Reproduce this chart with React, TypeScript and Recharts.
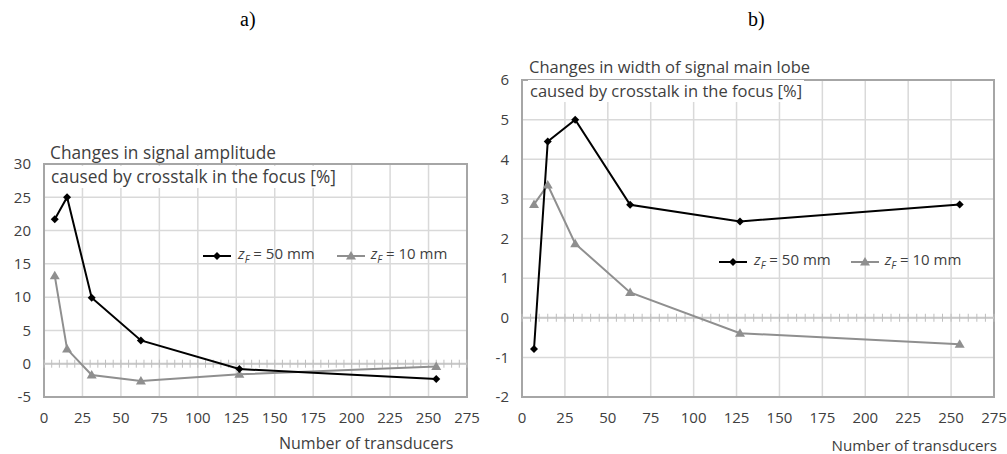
import React from 'react';
import { LineChart, Line, XAxis, YAxis, CartesianGrid, ReferenceLine, ReferenceArea } from 'recharts';

const transducers = [7, 15, 31, 63, 127, 255];
const amplitude50 = [21.7, 25.0, 9.9, 3.5, -0.8, -2.3];
const amplitude10 = [13.2, 2.2, -1.7, -2.6, -1.6, -0.4];
const width50 = [-0.79, 4.45, 5.0, 2.85, 2.43, 2.86];
const width10 = [2.86, 3.35, 1.87, 0.64, -0.39, -0.67];

const xTicks = [0, 25, 50, 75, 100, 125, 150, 175, 200, 225, 250, 275];
const amplitudeTicks = [-5, 0, 5, 10, 15, 20, 25, 30];
const widthTicks = [-2, -1, 0, 1, 2, 3, 4, 5, 6];

const FONT = '"Open Sans", sans-serif';
const TEXT = '#404040';
const GRID = '#d9d9d9';
const GRAY = '#8f8f8f';

const Diamond = (props: any) => {
  const { cx, cy, index } = props;
  return <path key={index} d={`M${cx},${cy - 4}L${cx + 4},${cy}L${cx},${cy + 4}L${cx - 4},${cy}Z`} fill="#000" />;
};

const Triangle = (props: any) => {
  const { cx, cy, index } = props;
  return <path key={index} d={`M${cx},${cy - 5}L${cx + 5},${cy + 3.5}L${cx - 5},${cy + 3.5}Z`} fill={GRAY} />;
};

// zero axis with small crossing ticks every 5 units
const ZeroAxis = (props: any) => {
  const { x1, x2, y1 } = props;
  const steps = 275 / 5;
  const dx = (x2 - x1) / steps;
  const ticks = [];
  for (let i = 0; i <= steps; i++) {
    const x = x1 + i * dx;
    ticks.push(<line key={i} x1={x} x2={x} y1={y1 - 4} y2={y1 + 4} stroke="#bfbfbf" strokeWidth={1} />);
  }
  return (
    <g>
      <line x1={x1} x2={x2} y1={y1} y2={y1} stroke="#c8c8c8" strokeWidth={2} />
      {ticks}
    </g>
  );
};

const ZLabel = ({ v }: { v: string }) => (
  <span>
    <i>z</i>
    <sub style={{ fontSize: 10, fontStyle: 'italic' }}>F</sub> = {v} mm
  </span>
);

const LegendBox = ({ left, top, gap }: { left: number; top: number; gap: number }) => (
  <div
    style={{
      position: 'absolute',
      left,
      top,
      display: 'flex',
      alignItems: 'center',
      fontFamily: FONT,
      fontSize: 15,
      color: TEXT,
      whiteSpace: 'nowrap',
      lineHeight: '20px',
    }}
  >
    <svg width={30} height={10} style={{ marginRight: 5 }}>
      <line x1={0} x2={28} y1={5} y2={5} stroke="#000" strokeWidth={2} />
      <path d="M14,1L18,5L14,9L10,5Z" fill="#000" />
    </svg>
    <ZLabel v="50" />
    <svg width={30} height={10} style={{ marginLeft: gap, marginRight: 4 }}>
      <line x1={0} x2={28} y1={5} y2={5} stroke={GRAY} strokeWidth={2} />
      <path d="M14,0L19,8.5L9,8.5Z" fill={GRAY} />
    </svg>
    <ZLabel v="10" />
  </div>
);

interface PanelProps {
  left: number;
  width: number;
  top: number;
  marginLeft: number;
  s50: number[];
  s10: number[];
  yTicks: number[];
}

function Panel({ left, width, top, marginLeft, s50, s10, yTicks }: PanelProps) {
  const data = transducers.map((n, i) => ({ n, a: s50[i], b: s10[i] }));
  const yMin = yTicks[0];
  const yMax = yTicks[yTicks.length - 1];
  return (
    <div style={{ position: 'absolute', left, top: 0 }}>
      <LineChart width={width} height={454} data={data} margin={{ top, right: 13, left: marginLeft, bottom: 32 }}>
        <CartesianGrid stroke={GRID} strokeWidth={1.5} />
        <XAxis
          dataKey="n"
          type="number"
          domain={[0, 275]}
          ticks={xTicks}
          interval={0}
          axisLine={false}
          tickLine={false}
          tickSize={0}
          tickMargin={15}
          height={25}
          tick={{ fill: TEXT, fontSize: 15, fontFamily: FONT }}
        />
        <YAxis
          type="number"
          domain={[yMin, yMax]}
          ticks={yTicks}
          interval={0}
          axisLine={false}
          tickLine={false}
          tickSize={0}
          tickMargin={13}
          width={30}
          tick={{ fill: TEXT, fontSize: 15, fontFamily: FONT }}
        />
        <ReferenceArea x1={0} x2={275} y1={yMin} y2={yMax} fill="none" stroke="#a6a6a6" strokeWidth={2} />
        <ReferenceLine y={0} shape={ZeroAxis} />
        <Line type="linear" dataKey="b" stroke={GRAY} strokeWidth={2} dot={Triangle} isAnimationActive={false} />
        <Line type="linear" dataKey="a" stroke="#000" strokeWidth={2} dot={Diamond} isAnimationActive={false} />
      </LineChart>
    </div>
  );
}

const titleLine: React.CSSProperties = {
  position: 'absolute',
  fontFamily: FONT,
  fontSize: 17,
  color: TEXT,
  whiteSpace: 'nowrap',
  lineHeight: '22px',
};

export default function App() {
  return (
    <div style={{ position: 'absolute', left: 0, top: 0, width: 1007, height: 454, background: '#fff', overflow: 'hidden' }}>
      <div style={{ position: 'absolute', left: 240, top: 8, fontFamily: '"Liberation Serif", serif', fontSize: 20, color: '#000' }}>a)</div>
      <div style={{ position: 'absolute', left: 748, top: 8, fontFamily: '"Liberation Serif", serif', fontSize: 20, color: '#000' }}>b)</div>

      <Panel left={0} width={480} top={164} marginLeft={14} s50={amplitude50} s10={amplitude10} yTicks={amplitudeTicks} />
      <Panel left={480} width={527} top={80} marginLeft={12} s50={width50} s10={width10} yTicks={widthTicks} />

      <div style={{ ...titleLine, fontSize: 17.3, left: 50, top: 142 }}>Changes in signal amplitude</div>
      <div style={{ ...titleLine, fontSize: 17.3, left: 49, top: 166, background: '#fff', padding: '0 2px' }}>caused by crosstalk in the focus [%]</div>
      <div style={{ ...titleLine, fontSize: 16.5, left: 529, top: 56 }}>Changes in width of signal main lobe</div>
      <div style={{ ...titleLine, fontSize: 16.5, left: 528, top: 80, background: '#fff', padding: '0 2px' }}>caused by crosstalk in the focus [%]</div>

      <LegendBox left={203} top={243} gap={22} />
      <LegendBox left={719} top={249} gap={20} />

      <div style={{ ...titleLine, fontSize: 16, left: 279, top: 432 }}>Number of transducers</div>
      <div style={{ ...titleLine, fontSize: 15.2, right: 10, top: 434 }}>Number of transducers</div>
    </div>
  );
}
